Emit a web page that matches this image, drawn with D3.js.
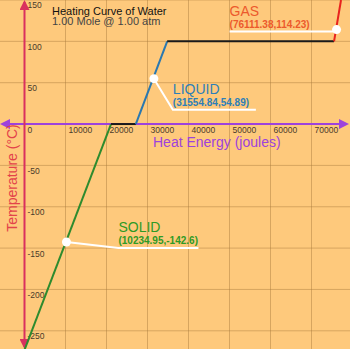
<!DOCTYPE html>
<html>
<head>
<meta charset="utf-8">
<script src="https://cdn.jsdelivr.net/npm/d3@7"></script>
<style>
  body { margin: 0; padding: 0; overflow: hidden; }
  svg { display: block; }
</style>
</head>
<body>
<div id="container"></div>
<script>
var width = 350,
    height = 349;

// heating curve corners (joules, degrees C)
var heatPoints = [0, 21100, 27150, 34800, 75500, 77200];
var tempPoints = [-273.15, 0, 0, 100, 100, 150];
var segColors = ["#2e8b2e", "#1a1a1a", "#2a78b0", "#1a1a1a", "#e8231e"];

// marked points
var labelNames = ["SOLID", "LIQUID", "GAS"];
var labelHeat = [10234.95, 31554.84, 76111.38];
var labelTemp = [-142.6, 54.89, 114.23];
var labelColors = ["#2f9a25", "#2d7fb8", "#ec5a2c"];

var xTicks = [0, 10000, 20000, 30000, 40000, 50000, 60000, 70000];
var yTicks = [150, 100, 50, -50, -100, -150, -200, -250];

var x = d3.scaleLinear().domain([0, 70000]).range([24.5, 311.5]);
var y = d3.scaleLinear().domain([-250, 150]).range([330.8, 0]);

var svg = d3.select("#container").append("svg")
    .attr("width", width)
    .attr("height", height)
    .style("font-family", "'Liberation Sans', Arial, sans-serif");

svg.append("rect")
    .attr("width", width)
    .attr("height", height)
    .attr("fill", "#fec97c");

var defs = svg.append("defs");
defs.append("clipPath").attr("id", "clip")
    .append("rect").attr("width", width).attr("height", height);

function arrow(id, col) {
  defs.append("marker")
      .attr("id", id)
      .attr("viewBox", "0 0 10 10")
      .attr("refX", 8).attr("refY", 5)
      .attr("markerWidth", 5).attr("markerHeight", 5)
      .attr("orient", "auto-start-reverse")
      .append("path")
      .attr("d", "M0,0 L10,5 L0,10 z")
      .attr("fill", col);
}
arrow("arrPurple", "#9d42dc");
arrow("arrRed", "#d9305e");

// grid
var grid = svg.append("g").attr("stroke", "#a87a3c").attr("stroke-opacity", 0.45).attr("stroke-width", 1);
grid.selectAll(".vx")
    .data(xTicks.filter(function(d) { return d != 0; }))
    .enter().append("line")
    .attr("x1", function(d) { return x(d); })
    .attr("x2", function(d) { return x(d); })
    .attr("y1", 0).attr("y2", height);
grid.selectAll(".hy")
    .data(yTicks)
    .enter().append("line")
    .attr("y1", function(d) { return y(d); })
    .attr("y2", function(d) { return y(d); })
    .attr("x1", 0).attr("x2", width);

// tick labels
svg.selectAll(".xt")
    .data(xTicks)
    .enter().append("text")
    .attr("x", function(d) { return x(d) + 3; })
    .attr("y", y(0) + 8.5)
    .attr("font-size", 8.5)
    .attr("fill", "#4a3b2a")
    .text(function(d) { return d; });
svg.selectAll(".yt")
    .data(yTicks)
    .enter().append("text")
    .attr("x", x(0) + 3)
    .attr("y", function(d) { return y(d) + (d == 150 ? 8 : 8.5); })
    .attr("font-size", 8.5)
    .attr("fill", "#4a3b2a")
    .text(function(d) { return d; });

// axes
svg.append("line")
    .attr("x1", 2).attr("x2", 347)
    .attr("y1", y(0)).attr("y2", y(0))
    .attr("stroke", "#9d42dc").attr("stroke-width", 2)
    .attr("marker-start", "url(#arrPurple)")
    .attr("marker-end", "url(#arrPurple)");
svg.append("line")
    .attr("x1", x(0)).attr("x2", x(0))
    .attr("y1", 2).attr("y2", 347)
    .attr("stroke", "#d9305e").attr("stroke-width", 2)
    .attr("marker-start", "url(#arrRed)")
    .attr("marker-end", "url(#arrRed)");

// curve segments
var segs = [];
for (var i = 0; i < heatPoints.length - 1; i++) {
  segs.push({x1: heatPoints[i], y1: tempPoints[i], x2: heatPoints[i + 1], y2: tempPoints[i + 1], c: segColors[i]});
}
svg.append("g").attr("clip-path", "url(#clip)")
    .selectAll("line")
    .data(segs)
    .enter().append("line")
    .attr("x1", function(d) { return x(d.x1); })
    .attr("y1", function(d) { return y(d.y1); })
    .attr("x2", function(d) { return x(d.x2); })
    .attr("y2", function(d) { return y(d.y2); })
    .attr("stroke", function(d) { return d.c; })
    .attr("stroke-width", 2);

// titles
svg.append("text").attr("x", 52).attr("y", 14.5)
    .attr("font-size", 11).attr("fill", "#111")
    .text("Heating Curve of Water");
svg.append("text").attr("x", 52).attr("y", 25)
    .attr("font-size", 11).attr("fill", "#444")
    .text("1.00 Mole @ 1.00 atm");
svg.append("text").attr("x", 153).attr("y", 147)
    .attr("font-size", 14).attr("fill", "#9d42dc")
    .text("Heat Energy (joules)");
svg.append("text")
    .attr("transform", "translate(17,178) rotate(-90)")
    .attr("text-anchor", "middle")
    .attr("font-size", 14).attr("fill", "#e3434a")
    .text("Temperature (°C)");

// point labels
var labelDx = [52, 19, -107];
var labelDy = [6, 31, 2];
var labelLen = [80, 83, 105];
for (var k = 0; k < labelNames.length; k++) {
  var px = x(labelHeat[k]), py = y(labelTemp[k]);
  var lx = px + labelDx[k], ly = py + labelDy[k];
  var path = labelDx[k] > 0
    ? [[px, py], [lx, ly], [lx + labelLen[k], ly]]
    : [[px, py], [px - 4, ly], [lx, ly]];
  svg.append("path")
      .attr("d", d3.line()(path))
      .attr("fill", "none")
      .attr("stroke", "#fff")
      .attr("stroke-width", 2);
  svg.append("circle")
      .attr("cx", px).attr("cy", py).attr("r", 4.5)
      .attr("fill", "#fff");
  svg.append("text")
      .attr("x", lx)
      .attr("y", ly - 16)
      .attr("font-size", 14)
      .attr("fill", labelColors[k])
      .text(labelNames[k]);
  svg.append("text")
      .attr("x", lx)
      .attr("y", ly - 4)
      .attr("font-size", 10)
      .attr("font-weight", "bold")
      .attr("fill", labelColors[k])
      .text("(" + labelHeat[k] + "," + labelTemp[k] + ")");
}
</script>
</body>
</html>
